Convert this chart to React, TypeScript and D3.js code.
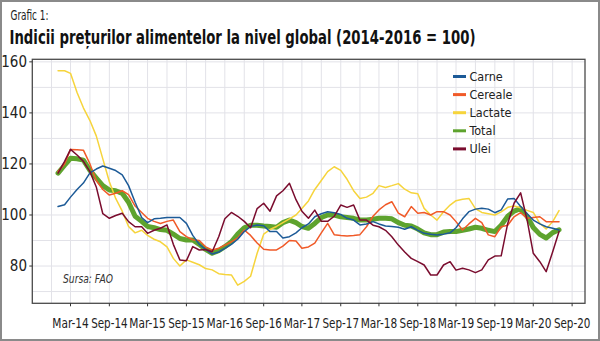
import React, { useLayoutEffect, useRef, useState } from "react";
import * as d3 from "d3";

const seriesNames = ["Carne", "Cereale", "Lactate", "Total", "Ulei"];
const seriesColors = ["#1c5a97", "#f05a28", "#f6d43c", "#5ea32e", "#7a0c2e"];

const carne = [103.3, 104, 107, 110, 112.5, 116.5, 118, 119.2, 118.3, 117.4, 115.7, 111.5, 105, 99, 97, 98.5, 98.7, 99, 99, 99, 96.7, 92, 88.5, 86.5, 84.7, 85.5, 86.9, 88.5, 90.5, 93.5, 95.5, 96.1, 95.8, 93.5, 93.5, 91, 91.5, 93, 95, 96.5, 99.3, 100.5, 101.3, 100.9, 100.2, 98.7, 98, 96.1, 96.5, 97.4, 96.5, 95.7, 95.5, 95.2, 94.4, 95.4, 94, 92.8, 92.5, 92.2, 92.5, 93, 95, 98.5, 101.3, 102.3, 102.6, 102.3, 100.9, 102, 106.3, 106.5, 103.3, 100.5, 98, 96.5, 95.4, 94.8, 94.1];
const cereale = [117, 120, 125.7, 125.6, 125.4, 120, 113.5, 110, 107.8, 108.5, 109.5, 108, 103.5, 101, 98.7, 97.5, 96.7, 97.5, 98, 93.5, 91.5, 90.3, 90, 87.5, 86.3, 87, 88.2, 89.5, 91, 94.1, 92, 89, 86.6, 86.3, 86.3, 87.8, 90, 89.8, 87, 87.5, 89, 93, 96.7, 92.3, 92, 91.8, 92, 92.3, 95.4, 99.5, 102, 104, 105.2, 100.7, 99.3, 103.3, 100.7, 101, 100, 101.3, 101.3, 100, 97.4, 94.1, 96.5, 98.7, 97, 92.2, 91.5, 95.4, 96, 99.3, 100.9, 98.7, 99, 99.3, 97.4, 97.4, 97.4];
const lactate = [156.5, 156.5, 155.5, 148, 142, 137, 131, 122, 113, 106.5, 101.5, 95.5, 93, 94, 92, 90.5, 89.5, 87.5, 83, 80, 82.4, 81.5, 80.5, 79, 78.5, 77, 76.7, 76.5, 72.5, 74, 76, 85, 92.5, 94.3, 95.5, 97, 98.5, 100, 102.5, 105.5, 110, 113.5, 117, 118.9, 117.5, 114, 109.5, 106.5, 107, 108.5, 111.5, 110.8, 111.5, 112.3, 110.1, 108.7, 108.3, 102.6, 100, 98, 101.3, 103.9, 105.6, 106.2, 106.5, 102.5, 101, 100.5, 100, 101.2, 103, 103.5, 102.8, 101.8, 101, 96.7, 94.5, 97.4, 101.7];
const total = [116.4, 119.5, 122.2, 122, 121.5, 117.5, 114.5, 111.5, 109.8, 109.5, 108.5, 105, 99.5, 97.5, 95.5, 95, 94.3, 94, 92.5, 90.8, 90.2, 90.2, 88.5, 86.5, 85, 86, 87.6, 89.5, 92.5, 95, 96, 96, 95.7, 95.5, 95.2, 97, 98, 97, 95.5, 94.8, 96.7, 99, 100, 100, 99.3, 99, 98.7, 98, 98, 98.3, 98.7, 98.7, 98.5, 97, 96, 95.7, 94.5, 93, 92.3, 92.3, 93.3, 93.5, 93.5, 94, 94.5, 95.2, 94.8, 94, 93.5, 96, 99.5, 101.5, 102.5, 99.4, 95.1, 92.4, 91, 93.1, 94.2];
const ulei = [116.4, 121, 125.7, 123.5, 121, 117, 111, 100.5, 98.7, 99.8, 100.7, 97.4, 95.4, 95.4, 92.8, 94, 94.8, 96.1, 88.5, 82.4, 82.1, 87.6, 86.3, 86.5, 85.6, 91.5, 98.5, 101, 99.5, 97.5, 95, 102.5, 104.6, 101.5, 107.5, 109.5, 112.4, 106, 101.5, 98.7, 101.9, 97.5, 97.5, 99.5, 103.9, 103, 103.9, 98, 98, 96, 95.4, 94, 91.5, 88.2, 85.5, 83, 81.7, 80.4, 76.5, 76.5, 80.4, 81.7, 78.4, 79.1, 78.5, 77.4, 78.5, 82.4, 83.9, 84, 96.7, 104.6, 108.7, 98, 85, 81.7, 77.8, 85.6, 93.5];

const xTickLabels = ["Mar-14", "Sep-14", "Mar-15", "Sep-15", "Mar-16", "Sep-16", "Mar-17", "Sep-17", "Mar-18", "Sep-18", "Mar-19", "Sep-19", "Mar-20", "Sep-20"];
const yTickValues = [80, 100, 120, 140, 160];
const yGridValues = [70, 80, 90, 100, 110, 120, 130, 140, 150, 160];

const FONT = "'Liberation Sans Narrow', 'DejaVu Sans Condensed', 'Roboto Condensed', 'Liberation Sans', sans-serif";

type FitProps = {
  x: number; y: number; width: number; anchor?: "start" | "middle" | "end";
  fontSize: number; fontWeight?: string; fontStyle?: string; fill?: string; children: string;
};

function FitText({ x, y, width, anchor = "start", fontSize, fontWeight, fontStyle, fill = "#222", children }: FitProps) {
  const ref = useRef<SVGTextElement>(null);
  const [s, setS] = useState(1);
  useLayoutEffect(() => {
    if (ref.current) {
      const len = ref.current.getComputedTextLength();
      if (len > 0) setS(Math.min(1.1, width / len));
    }
  }, [children, width, fontSize]);
  return (
    <text ref={ref} transform={`translate(${x},${y}) scale(${s},1)`} textAnchor={anchor}
      fontFamily={FONT} fontSize={fontSize} fontWeight={fontWeight} fontStyle={fontStyle} fill={fill}>
      {children}
    </text>
  );
}

export default function App() {
  const left = 32.3, right = 585, top = 59.3, bottom = 303.3;
  const dates = d3.timeMonth.range(new Date(2014, 0, 1), new Date(2020, 7, 1));
  const x = d3.scaleTime().domain([new Date(2013, 8, 1), new Date(2020, 10, 1)]).range([left, right]);
  const y = d3.scaleLinear().domain([65.4, 161]).range([bottom, top]);
  const parse = d3.timeParse("%b-%y");
  const tickDates = xTickLabels.map((l) => parse(l) as Date);
  const gridDates = d3.timeMonth.range(new Date(2013, 11, 1), new Date(2020, 9, 1), 3);

  const line = d3.line<number>().x((_, i) => x(dates[i])).y((d) => y(d));
  const all = [carne, cereale, lactate, total, ulei];
  const drawOrder = [3, 2, 1, 0, 4];

  return (
    <div style={{ position: "fixed", left: 0, top: 0 }}>
      <svg width={600} height={341} style={{ display: "block", background: "#fff" }}>
        <rect x={1} y={1} width={598} height={339} fill="#fff" stroke="#8a8a8a" strokeWidth={2} />
        <FitText x={10.5} y={20} width={38} fontSize={14}>Grafic 1:</FitText>
        <FitText x={9.5} y={44} width={466} fontSize={19} fontWeight="bold" fill="#111">Indicii prețurilor alimentelor la nivel global (2014-2016 = 100)</FitText>

        {yGridValues.map((v) => (
          <line key={"gy" + v} x1={left} x2={right} y1={y(v)} y2={y(v)} stroke="#e2e2e8" strokeWidth={1} />
        ))}
        {gridDates.map((d, i) => (
          <line key={"gx" + i} x1={x(d)} x2={x(d)} y1={top} y2={bottom} stroke="#e2e2e8" strokeWidth={1} />
        ))}

        {drawOrder.map((k) => (
          <path key={seriesNames[k]} d={line(all[k]) || ""} fill="none" stroke={seriesColors[k]}
            strokeWidth={k === 3 ? 5 : 1.5} strokeLinejoin="round" strokeLinecap="round" />
        ))}

        <rect x={left} y={top} width={right - left} height={bottom - top} fill="none" stroke="#4a4a4a" strokeWidth={1.3} />

        {yTickValues.map((v) => (
          <g key={"yt" + v}>
            <line x1={left - 3} x2={left} y1={y(v)} y2={y(v)} stroke="#333" />
            <text x={27} y={y(v)} dy="0.36em" textAnchor="end" fontFamily={FONT} fontSize={15} fill="#222">{v}</text>
          </g>
        ))}
        {tickDates.map((d, i) => (
          <g key={"xt" + i}>
            <line x1={x(d)} x2={x(d)} y1={bottom} y2={bottom + 3} stroke="#333" />
            <FitText x={x(d)} y={328} width={36.5} anchor="middle" fontSize={14}>{xTickLabels[i]}</FitText>
          </g>
        ))}

        <FitText x={63} y={283} width={50} fontSize={13} fontStyle="italic" fill="#333">Sursa: FAO</FitText>

        {seriesNames.map((n, i) => (
          <g key={"lg" + n}>
            <rect x={453} y={76.5 + i * 18.1 - 1.5} width={13} height={3} fill={seriesColors[i]} />
            <text x={469.5} y={76.5 + i * 18.1} dy="0.36em" fontFamily={FONT} fontSize={12.5} fill="#222">{n}</text>
          </g>
        ))}
      </svg>
    </div>
  );
}
